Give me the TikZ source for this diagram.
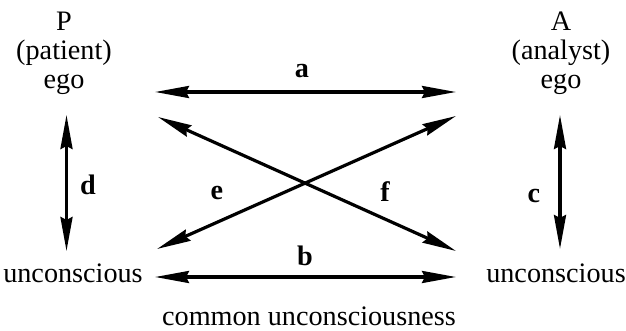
\documentclass[tikz,border=0pt]{standalone}
\usepackage{fontspec}
\setmainfont{Liberation Serif}
\usetikzlibrary{arrows.meta}

\begin{document}
\begin{tikzpicture}[x=0.5pt, y=-0.5pt,
  txt/.style={inner sep=0pt, font=\fontsize{14.1}{14.5}\selectfont, align=center},
  lbl/.style={inner sep=0pt, anchor=base, font=\fontsize{14.1}{14.5}\selectfont\bfseries},
  arr/.style={{Stealth[length=17pt, width=6pt, inset=1.5pt]}-{Stealth[length=17pt, width=6pt, inset=1.5pt]},
    line width=1.6pt}
]
\useasboundingbox (0,0) rectangle (626,331);

% the two persons
\node[txt] (pego) at (64,53) {P\\(patient)\\ego};
\node[txt] (aego) at (561,53) {A\\(analyst)\\ego};
\node[txt, anchor=base] (punc) at (73,282) {unconscious};
\node[txt, anchor=base] (aunc) at (556,282) {unconscious};
\node[txt, anchor=base] (common) at (309,325) {common unconsciousness};

% arrow ends
\coordinate (pe) at (66.5,115);
\coordinate (pu) at (66.5,251);
\coordinate (ae) at (560,115);
\coordinate (au) at (560,249);
\coordinate (al) at (155,92);
\coordinate (ar) at (456,92);
\coordinate (bl) at (155,277);
\coordinate (br) at (456,277);
\coordinate (tl) at (158,117);
\coordinate (tr) at (456,116);
\coordinate (ll) at (157,249);
\coordinate (lr) at (456,251);

\draw[arr] (al) -- (ar);
\draw[arr] (bl) -- (br);
\draw[arr] (tl) -- (lr);
\draw[arr] (ll) -- (tr);
\draw[arr] (pe) -- (pu);
\draw[arr] (ae) -- (au);

% labels
\node[lbl] (la) at (302,78) {a};
\node[lbl] (lb) at (305,265) {b};
\node[lbl] (lc) at (534,203) {c};
\node[lbl] (ld) at (88,195) {d};
\node[lbl] (le) at (217,200) {e};
\node[lbl] (lf) at (385,202) {f};
\end{tikzpicture}
\end{document}
